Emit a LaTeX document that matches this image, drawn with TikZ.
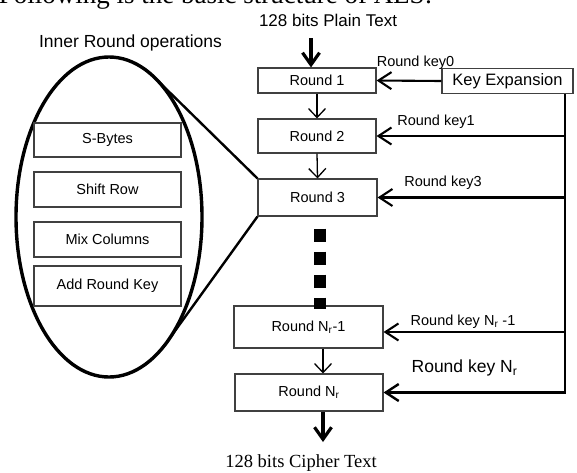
\documentclass[tikz,border=0pt]{standalone}
\usepackage{fontspec}
\setmainfont{Liberation Sans}
\newfontfamily\myserif{Liberation Serif}
\usetikzlibrary{arrows.meta,shapes.geometric}
\newcommand\myfs[1]{\fontsize{#1}{#1}\selectfont}
\tikzset{
  box/.style={draw=black!75, line width=1.1pt, inner sep=0pt, font=\myfs{14.5}},
  lbl/.style={inner sep=0pt, font=\myfs{14.5}},
  thinarrow/.style={line width=1.3pt, -{Straight Barb[length=9pt,width=17pt]}},
  keyarrow/.style={line width=2.1pt, -{Straight Barb[length=13pt,width=17pt]}},
  bigarrow/.style={line width=3.2pt, -{Straight Barb[length=12pt,width=17pt]}},
  zoomline/.style={line width=2.4pt},
  dotline/.style={line width=12pt, dash pattern=on 13pt off 10pt},
}
\begin{document}
\begin{tikzpicture}[x=1pt,y=-1pt]
\path[use as bounding box] (0,0) rectangle (577,472);
\clip (0,0) rectangle (577,472);
\fill[white] (0,0) rectangle (577,472);

% cropped caption at top (only its lowest part lies inside the picture)
\node[inner sep=0pt, font=\myserif\myfs{27}] (caption) at (215.5,-3.5) {Following is the basic structure of AES:};

% titles
\node[inner sep=0pt, font=\myfs{17}] (plain) at (328,20) {128 bits Plain Text};
\node[inner sep=0pt, font=\myfs{17.5}] (inner) at (130.5,43) {Inner Round operations};
\node[inner sep=0pt, font=\myserif\myfs{18.5}] (cipher) at (301,463) {128 bits Cipher Text};

% rounds
\node[box, minimum width=118pt, minimum height=25pt] (r1) at (317,80.5) {Round 1};
\node[box, minimum width=118pt, minimum height=34pt] (r2) at (317,136) {Round 2};
\node[box, minimum width=119pt, minimum height=37pt] (r3) at (317.5,197.5) {Round 3};
\node[box, minimum width=149pt, minimum height=42pt] (rn1) at (308.5,327) {Round N\textsubscript{r}-1};
\node[box, minimum width=148pt, minimum height=37pt] (rn) at (309,392.5) {Round N\textsubscript{r}};
\node[box, font=\myfs{16.5}, minimum width=131pt, minimum height=25pt] (kexp) at (507.5,81) {Key Expansion};

% oval with inner operations
\node[draw, ellipse, line width=3.4pt, inner sep=0pt, minimum width=186pt, minimum height=320pt] (oval) at (109,217) {};
\node[box, minimum width=147pt, minimum height=34pt] (sb) at (107.5,140) {S-Bytes};
\node[box, minimum width=147pt, minimum height=35pt] (sr) at (107.5,189.5) {Shift Row};
\node[box, minimum width=147pt, minimum height=35pt] (mc) at (107.5,239.5) {Mix Columns};
\node[box, minimum width=147pt, minimum height=40pt] (ark) at (107.5,286) {Add Round Key};

% zoom lines
\coordinate (tu) at (155,78);
\coordinate (tl) at (167,342);
\draw[zoomline] (r3.north west) -- (tu);
\draw[zoomline] (r3.south west) -- (tl);

% key labels
\node[lbl] (k0) at (415.5,63) {Round key0};
\node[lbl] (k1) at (436,122) {Round key1};
\node[lbl] (k3) at (443,183) {Round key3};
\node[lbl] (kn1) at (463,322) {Round key N\textsubscript{r} -1};
\node[inner sep=0pt, font=\myfs{17.5}] (kn) at (464.5,368) {Round key N\textsubscript{r}};

% flow arrows
\coordinate (pin) at (311,38);
\coordinate (cx) at (323,0);
\coordinate (dx) at (320,0);
\coordinate (cout) at (323,442);
\draw[bigarrow] (pin) -- (pin |- r1.north);
\draw[thinarrow] (r1.south) -- (r2.north);
\draw[thinarrow] (r2.south) -- (r3.north);
\draw[dotline] ([yshift=-12pt]r3.south -| dx) -- ([yshift=-4pt]rn1.north -| dx);
\draw[thinarrow] (rn1.south -| cx) -- (rn.north -| cx);
\draw[bigarrow] (rn.south -| cx) -- (cout);

% key bus
\coordinate (kbus) at (565,0);
\draw[keyarrow] (kexp.west) -- (r1.east);
\draw[keyarrow, line width=2.4pt] (kexp.south -| kbus) -- (kbus |- rn.east) -- (rn.east);
\draw[keyarrow] (kbus |- r2.east) -- (r2.east);
\draw[keyarrow] (kbus |- r3.east) -- (r3.east);
\draw[keyarrow] ([yshift=-5pt]kbus |- rn1.east) -- ([yshift=-5pt]rn1.east);
\end{tikzpicture}
\end{document}
